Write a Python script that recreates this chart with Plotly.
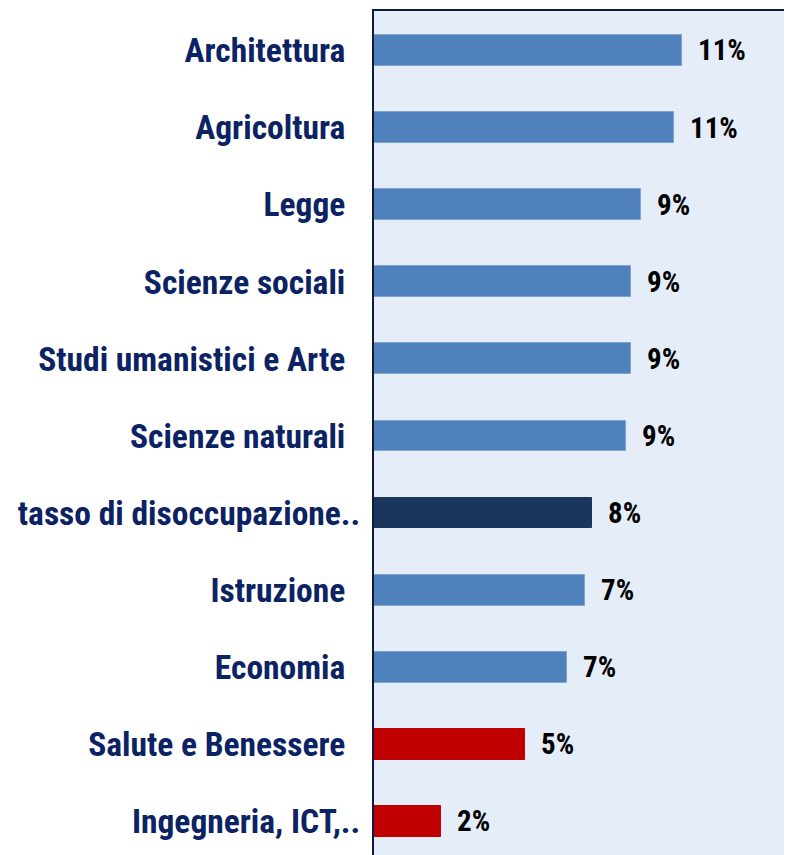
import plotly.graph_objects as go

categories = [
    "Architettura",
    "Agricoltura",
    "Legge",
    "Scienze sociali",
    "Studi umanistici e Arte",
    "Scienze naturali",
    "tasso di disoccupazione..",
    "Istruzione",
    "Economia",
    "Salute e Benessere",
    "Ingegneria, ICT,..",
]
values = [10.86, 10.59, 9.43, 9.08, 9.05, 8.87, 7.70, 7.45, 6.79, 5.34, 2.35]
labels = ["11%", "11%", "9%", "9%", "9%", "9%", "8%", "7%", "7%", "5%", "2%"]
bar_colors = ["#4F81BD"] * 6 + ["#1A365D"] + ["#4F81BD"] * 2 + ["#C00000"] * 2
edge_colors = ["#7EA3D3"] * 6 + ["#1A365D"] + ["#7EA3D3"] * 2 + ["#C00000"] * 2

FONT = "Liberation Sans Narrow, Arial Narrow, Roboto Condensed, Liberation Sans, Arial, sans-serif"

# untruncated labels carry a trailing space, like the original
tick_text = [c if c.endswith("..") else c + "\u2002" for c in categories]

fig = go.Figure()
fig.add_trace(go.Bar(
    y=categories,
    x=values,
    orientation="h",
    width=0.40,
    marker=dict(color=bar_colors, line=dict(color=edge_colors, width=1)),
    hoverinfo="skip",
))

for c, v, t in zip(categories, values, labels):
    fig.add_annotation(
        x=v, y=c, text=t, showarrow=False,
        xanchor="left", yanchor="middle", xshift=14,
        font=dict(family=FONT, size=29, color="#000000", weight="bold"),
    )

fig.update_layout(
    width=784, height=847, autosize=False,
    margin=dict(l=365.5, r=0, t=3, b=0, pad=0),
    paper_bgcolor="#FFFFFF",
    plot_bgcolor="#E5EEF8",
    showlegend=False,
    bargap=0,
)
fig.update_xaxes(
    range=[0, 14.74], side="top", showline=True, linecolor="#0E1B3F", linewidth=2,
    showticklabels=False, showgrid=False, zeroline=False, ticks="", automargin=False,
)
fig.update_yaxes(
    type="category", categoryorder="array", categoryarray=categories,
    tickmode="array", tickvals=categories, ticktext=tick_text,
    range=[10.435, -0.512], automargin=False,
    showline=True, linecolor="#0E1B3F", linewidth=2,
    showgrid=False, zeroline=False, ticks="",
    ticklabelstandoff=5,
    tickfont=dict(family=FONT, size=33.5, color="#0B2263", weight="bold"),
)

fig.write_html("out.html")
